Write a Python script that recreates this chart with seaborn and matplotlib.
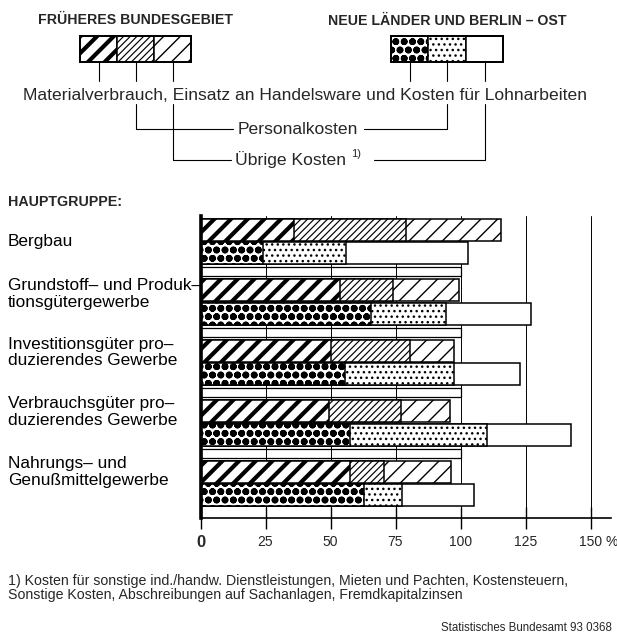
import numpy as np
import pandas as pd
import matplotlib
matplotlib.use("Agg")
import matplotlib.pyplot as plt
import matplotlib.transforms as mtransforms
from matplotlib.patches import Rectangle
import seaborn as sns

# ---------------- data ----------------
categories = [
    "Bergbau",
    "Grundstoff– und Produk–\ntionsgütergewerbe",
    "Investitionsgüter pro–\nduzierendes Gewerbe",
    "Verbrauchsgüter pro–\nduzierendes Gewerbe",
    "Nahrungs– und\nGenußmittelgewerbe",
]
regions = ["FRÜHERES BUNDESGEBIET", "NEUE LÄNDER UND BERLIN – OST"]

west_material = [36.0, 53.5, 50.0, 49.5, 57.5]
west_personal = [43.0, 20.5, 30.5, 27.5, 13.0]
west_uebrige = [36.5, 25.5, 17.0, 19.0, 26.0]

ost_material = [24.0, 65.5, 55.5, 57.5, 63.0]
ost_personal = [32.0, 29.0, 42.0, 52.5, 14.5]
ost_uebrige = [47.0, 32.5, 25.5, 32.5, 27.5]

x_ticks = [0, 25, 50, 75, 100, 125, 150]
x_tick_labels = ["0", "25", "50", "75", "100", "125", "150"]
reference_total = 100

legend_text_material = "Materialverbrauch, Einsatz an Handelsware und Kosten für Lohnarbeiten"
legend_text_personal = "Personalkosten"
legend_text_uebrige = "Übrige Kosten"
footnote = ("1) Kosten für sonstige ind./handw. Dienstleistungen, Mieten und Pachten, Kostensteuern,\n"
            "Sonstige Kosten, Abschreibungen auf Sachanlagen, Fremdkapitalzinsen")
source = "Statistisches Bundesamt 93 0368"

# ---------------- style ----------------
sns.set_theme(style="white")
plt.rcParams["font.family"] = ["Liberation Sans", "DejaVu Sans"]
plt.rcParams["hatch.linewidth"] = 1.0

rows = []
for i, cat in enumerate(categories):
    rows.append(dict(Hauptgruppe=cat, Gebiet=regions[0], mat=west_material[i],
                     pers=west_personal[i], ueb=west_uebrige[i]))
    rows.append(dict(Hauptgruppe=cat, Gebiet=regions[1], mat=ost_material[i],
                     pers=ost_personal[i], ueb=ost_uebrige[i]))
df = pd.DataFrame(rows)
df["c1"] = df["mat"]
df["c2"] = df["mat"] + df["pers"]
df["c3"] = df["c2"] + df["ueb"]

STYLES = {
    (0, "ueb"): dict(hatch="//", hlw=1.0),
    (0, "pers"): dict(hatch="/////", hlw=0.85),
    (0, "mat"): dict(hatch="//", hlw=3.0),
    (1, "ueb"): dict(hatch=None, hlw=1.0),
    (1, "pers"): dict(hatch="...", hlw=1.0),
    (1, "mat"): dict(hatch="oo", hlw=2.5),
}


def style_patch(p, region_idx, comp):
    st = STYLES[(region_idx, comp)]
    p.set_facecolor("white")
    p.set_edgecolor("black")
    p.set_linewidth(1.1)
    p.set_hatch(st["hatch"])
    if hasattr(p, "set_hatch_linewidth"):
        p.set_hatch_linewidth(st["hlw"])
    else:
        p._hatch_linewidth = st["hlw"]


W, H = 617, 638
fig = plt.figure(figsize=(W / 100, H / 100), dpi=100)
fig.patch.set_facecolor("white")

# overlay for legend header / texts (pixel coordinates)
ov = fig.add_axes([0, 0, 1, 1], zorder=-1)
ov.set_xlim(0, W)
ov.set_ylim(H, 0)
ov.axis("off")

ax_left, ax_right, ax_top, ax_bottom = 200.5, 611, 216, 518
ax = fig.add_axes([ax_left / W, (H - ax_bottom) / H, (ax_right - ax_left) / W,
                   (ax_bottom - ax_top) / H], zorder=1)
ax.set_facecolor("none")

for col, comp in [("c3", "ueb"), ("c2", "pers"), ("c1", "mat")]:
    n0 = len(ax.patches)
    sns.barplot(data=df, x=col, y="Hauptgruppe", hue="Gebiet", order=categories,
                hue_order=regions, orient="h", dodge=True, width=0.78, gap=0.06,
                errorbar=None, legend=False, saturation=1, ax=ax, zorder=2)
    for p in ax.patches[n0:]:
        yc = p.get_y() + p.get_height() / 2
        region_idx = 0 if yc < np.round(yc) else 1
        style_patch(p, region_idx, comp)

# separator strips between groups (100 % reference)
for i in range(len(categories) - 1):
    ax.barh(i + 0.5, reference_total, height=0.15, left=0, facecolor="none",
            edgecolor="black", linewidth=0.9, zorder=1.5)

ax.set_xlim(0, (ax_right - ax_left) / 2.6)
ax.set_ylim(4.57, -0.42)
ax.set_yticks([])
ax.set_xlabel("")
ax.set_ylabel("")
sns.despine(ax=ax, top=True, right=True)
ax.spines["left"].set_linewidth(2.6)
ax.spines["left"].set_color("black")
ax.spines["bottom"].set_linewidth(1.2)
ax.spines["bottom"].set_color("black")
ax.set_axisbelow(True)
ax.xaxis.grid(True, color="black", linewidth=0.7)
ax.set_xticks(x_ticks)
ax.set_xticklabels(x_tick_labels)
ax.tick_params(axis="x", direction="inout", length=16, width=1.0, color="black",
               labelsize=10, pad=4, bottom=True)
lbls = ax.get_xticklabels()
lbls[0].set_fontweight("bold")
lbls[0].set_fontsize(12)
ax.annotate("%", xy=(x_ticks[-1], 0), xycoords=("data", "axes fraction"),
            xytext=(11, -12), textcoords="offset points", ha="left", va="top",
            fontsize=10)

# category labels
label_offsets = [0.0, -0.13, -0.17, -0.18, -0.19]
lab_tr = mtransforms.blended_transform_factory(fig.transFigure, ax.transData)
for i, cat in enumerate(categories):
    ax.text(8 / W, i + label_offsets[i], cat, transform=lab_tr, ha="left", va="center",
            fontsize=12.4, linespacing=1.1, color="black")

ov.text(8, 202, "HAUPTGRUPPE:", fontweight="bold", fontsize=10.3, va="center", ha="left")

# ---------------- header legend ----------------
ov.text(136, 20, regions[0], ha="center", va="center", fontweight="bold", fontsize=10.2)
ov.text(447, 21, regions[1], ha="center", va="center", fontweight="bold", fontsize=10.2)
comps = ["mat", "pers", "ueb"]
boxes = {0: [80, 117, 154, 191], 1: [391, 428, 466, 503]}
box_top, box_bot = 36, 62
centers = {}
for r, edges in boxes.items():
    for k, comp in enumerate(comps):
        rect = Rectangle((edges[k], box_top), edges[k + 1] - edges[k], box_bot - box_top)
        ov.add_patch(rect)
        style_patch(rect, r, comp)
        centers[(r, comp)] = (edges[k] + edges[k + 1]) / 2
    ov.add_patch(Rectangle((edges[0], box_top), edges[-1] - edges[0], box_bot - box_top,
                           fill=False, edgecolor="black", linewidth=1.4))

lk = dict(color="black", linewidth=0.8)
for key, xc in centers.items():
    ov.plot([xc, xc], [box_bot, 81], **lk)
ov.text(305, 95, legend_text_material, ha="center", va="center", fontsize=12.6)

# Personalkosten leaders
y_p = 129
for r in (0, 1):
    xc = centers[(r, "pers")]
    ov.plot([xc, xc], [104, y_p], **lk)
ov.plot([centers[(0, "pers")], 233], [y_p, y_p], **lk)
ov.plot([364, centers[(1, "pers")]], [y_p, y_p], **lk)
ov.text(298, y_p, legend_text_personal, ha="center", va="center", fontsize=12.6)

# Übrige Kosten leaders
y_u = 160
for r in (0, 1):
    xc = centers[(r, "ueb")]
    ov.plot([xc, xc], [104, y_u], **lk)
ov.plot([centers[(0, "ueb")], 231], [y_u, y_u], **lk)
ov.plot([374, centers[(1, "ueb")]], [y_u, y_u], **lk)
ov.text(235, y_u, legend_text_uebrige, ha="left", va="center", fontsize=12.6)
ov.text(351, y_u - 6, "1)", ha="left", va="center", fontsize=8)

# footnote & source
ov.text(8, 587.5, footnote, ha="left", va="center", fontsize=10.2, linespacing=1.0)
ov.text(612, 628, source, ha="right", va="center", fontsize=8.3)

fig.savefig("out.png", dpi=100, facecolor="white")
